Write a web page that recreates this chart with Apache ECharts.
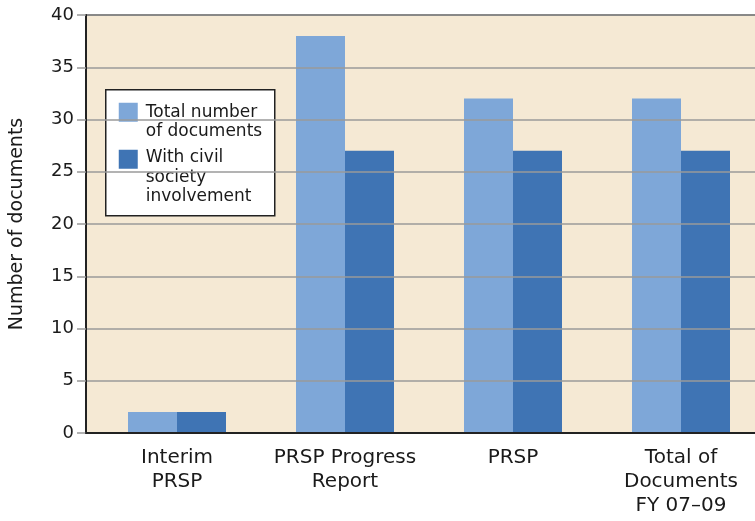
<!DOCTYPE html>
<html>
<head>
<meta charset="utf-8">
<script src="https://cdn.jsdelivr.net/npm/echarts@6/dist/echarts.min.js"></script>
<style>html,body{margin:0;padding:0;background:#fff;overflow:hidden}#c{width:775px;height:521px}</style>
</head>
<body>
<div id="c"></div>
<script>
const categories = ['Interim\nPRSP', 'PRSP Progress\nReport', 'PRSP', 'Total of\nDocuments\nFY 07\u201309'];
const totalDocs = [2, 38, 32, 32];
const withCivil = [2, 27, 27, 27];
const seriesNames = ['Total number\nof documents', 'With civil\nsociety\ninvolvement'];
const yTicks = { min: 0, max: 40, interval: 5 };

const FONT = 'DejaVu Sans';
const TXT = '#1a1a1a';
const LIGHT = '#7ea7d8';
const DARK = '#3f74b4';

const chart = echarts.init(document.getElementById('c'), null, { renderer: 'canvas' });
chart.setOption({
  animation: false,
  backgroundColor: '#ffffff',
  textStyle: { fontFamily: FONT, color: TXT },
  grid: [
    { left: 86, top: 15, right: 4, bottom: 88, show: true, backgroundColor: '#f5e9d4', borderColor: '#222', borderWidth: 1.5 },
    { left: 93, top: 15, right: 10, bottom: 88 }
  ],
  xAxis: [
    { type: 'value', gridIndex: 0, min: 0, max: 1, z: 5,
      axisLine: { show: true, onZero: false, lineStyle: { color: '#222', width: 2 } },
      axisTick: { show: false }, axisLabel: { show: false }, splitLine: { show: false } },
    { type: 'category', gridIndex: 1, data: categories,
      axisLine: { show: false }, axisTick: { show: false },
      axisLabel: { interval: 0, margin: 13, fontFamily: FONT, fontSize: 20, lineHeight: 24, color: TXT } }
  ],
  yAxis: [
    { type: 'value', gridIndex: 0, min: yTicks.min, max: yTicks.max, interval: yTicks.interval, z: 4,
      name: 'Number of documents', nameLocation: 'middle', nameGap: 59,
      nameTextStyle: { fontFamily: FONT, fontSize: 19, color: TXT },
      axisLine: { show: true, lineStyle: { color: '#222', width: 2 } },
      axisTick: { show: true, length: 9, lineStyle: { color: '#999', width: 1.5 } },
      axisLabel: { margin: 12, fontFamily: FONT, fontSize: 18, color: TXT },
      splitLine: { show: true, lineStyle: { color: '#9a9a9a', width: 1.5 } } },
    { type: 'value', gridIndex: 1, min: yTicks.min, max: yTicks.max, interval: yTicks.interval, show: false,
      splitLine: { show: false } }
  ],
  series: [
    { name: seriesNames[0], type: 'bar', xAxisIndex: 1, yAxisIndex: 1, data: totalDocs,
      barWidth: 49, barGap: '0%', itemStyle: { color: LIGHT } },
    { name: seriesNames[1], type: 'bar', xAxisIndex: 1, yAxisIndex: 1, data: withCivil,
      barWidth: 49, barGap: '0%', itemStyle: { color: DARK } }
  ],
  graphic: [
    { type: 'group', left: 105, top: 89, z: 10, children: [
      { type: 'rect', shape: { x: 0, y: 0, width: 169, height: 126 },
        style: { fill: '#fff', stroke: '#222', lineWidth: 1.5 } },
      { type: 'rect', shape: { x: 13, y: 13, width: 19, height: 19 }, style: { fill: LIGHT } },
      { type: 'text', x: 40, y: 13, style: { text: seriesNames[0], font: '17px "' + FONT + '"', lineHeight: 19.5, fill: TXT, textVerticalAlign: 'top' } },
      { type: 'rect', shape: { x: 13, y: 60, width: 19, height: 19 }, style: { fill: DARK } },
      { type: 'text', x: 40, y: 58.5, style: { text: seriesNames[1], font: '17px "' + FONT + '"', lineHeight: 19.5, fill: TXT, textVerticalAlign: 'top' } }
    ] }
  ]
});
</script>
</body>
</html>
